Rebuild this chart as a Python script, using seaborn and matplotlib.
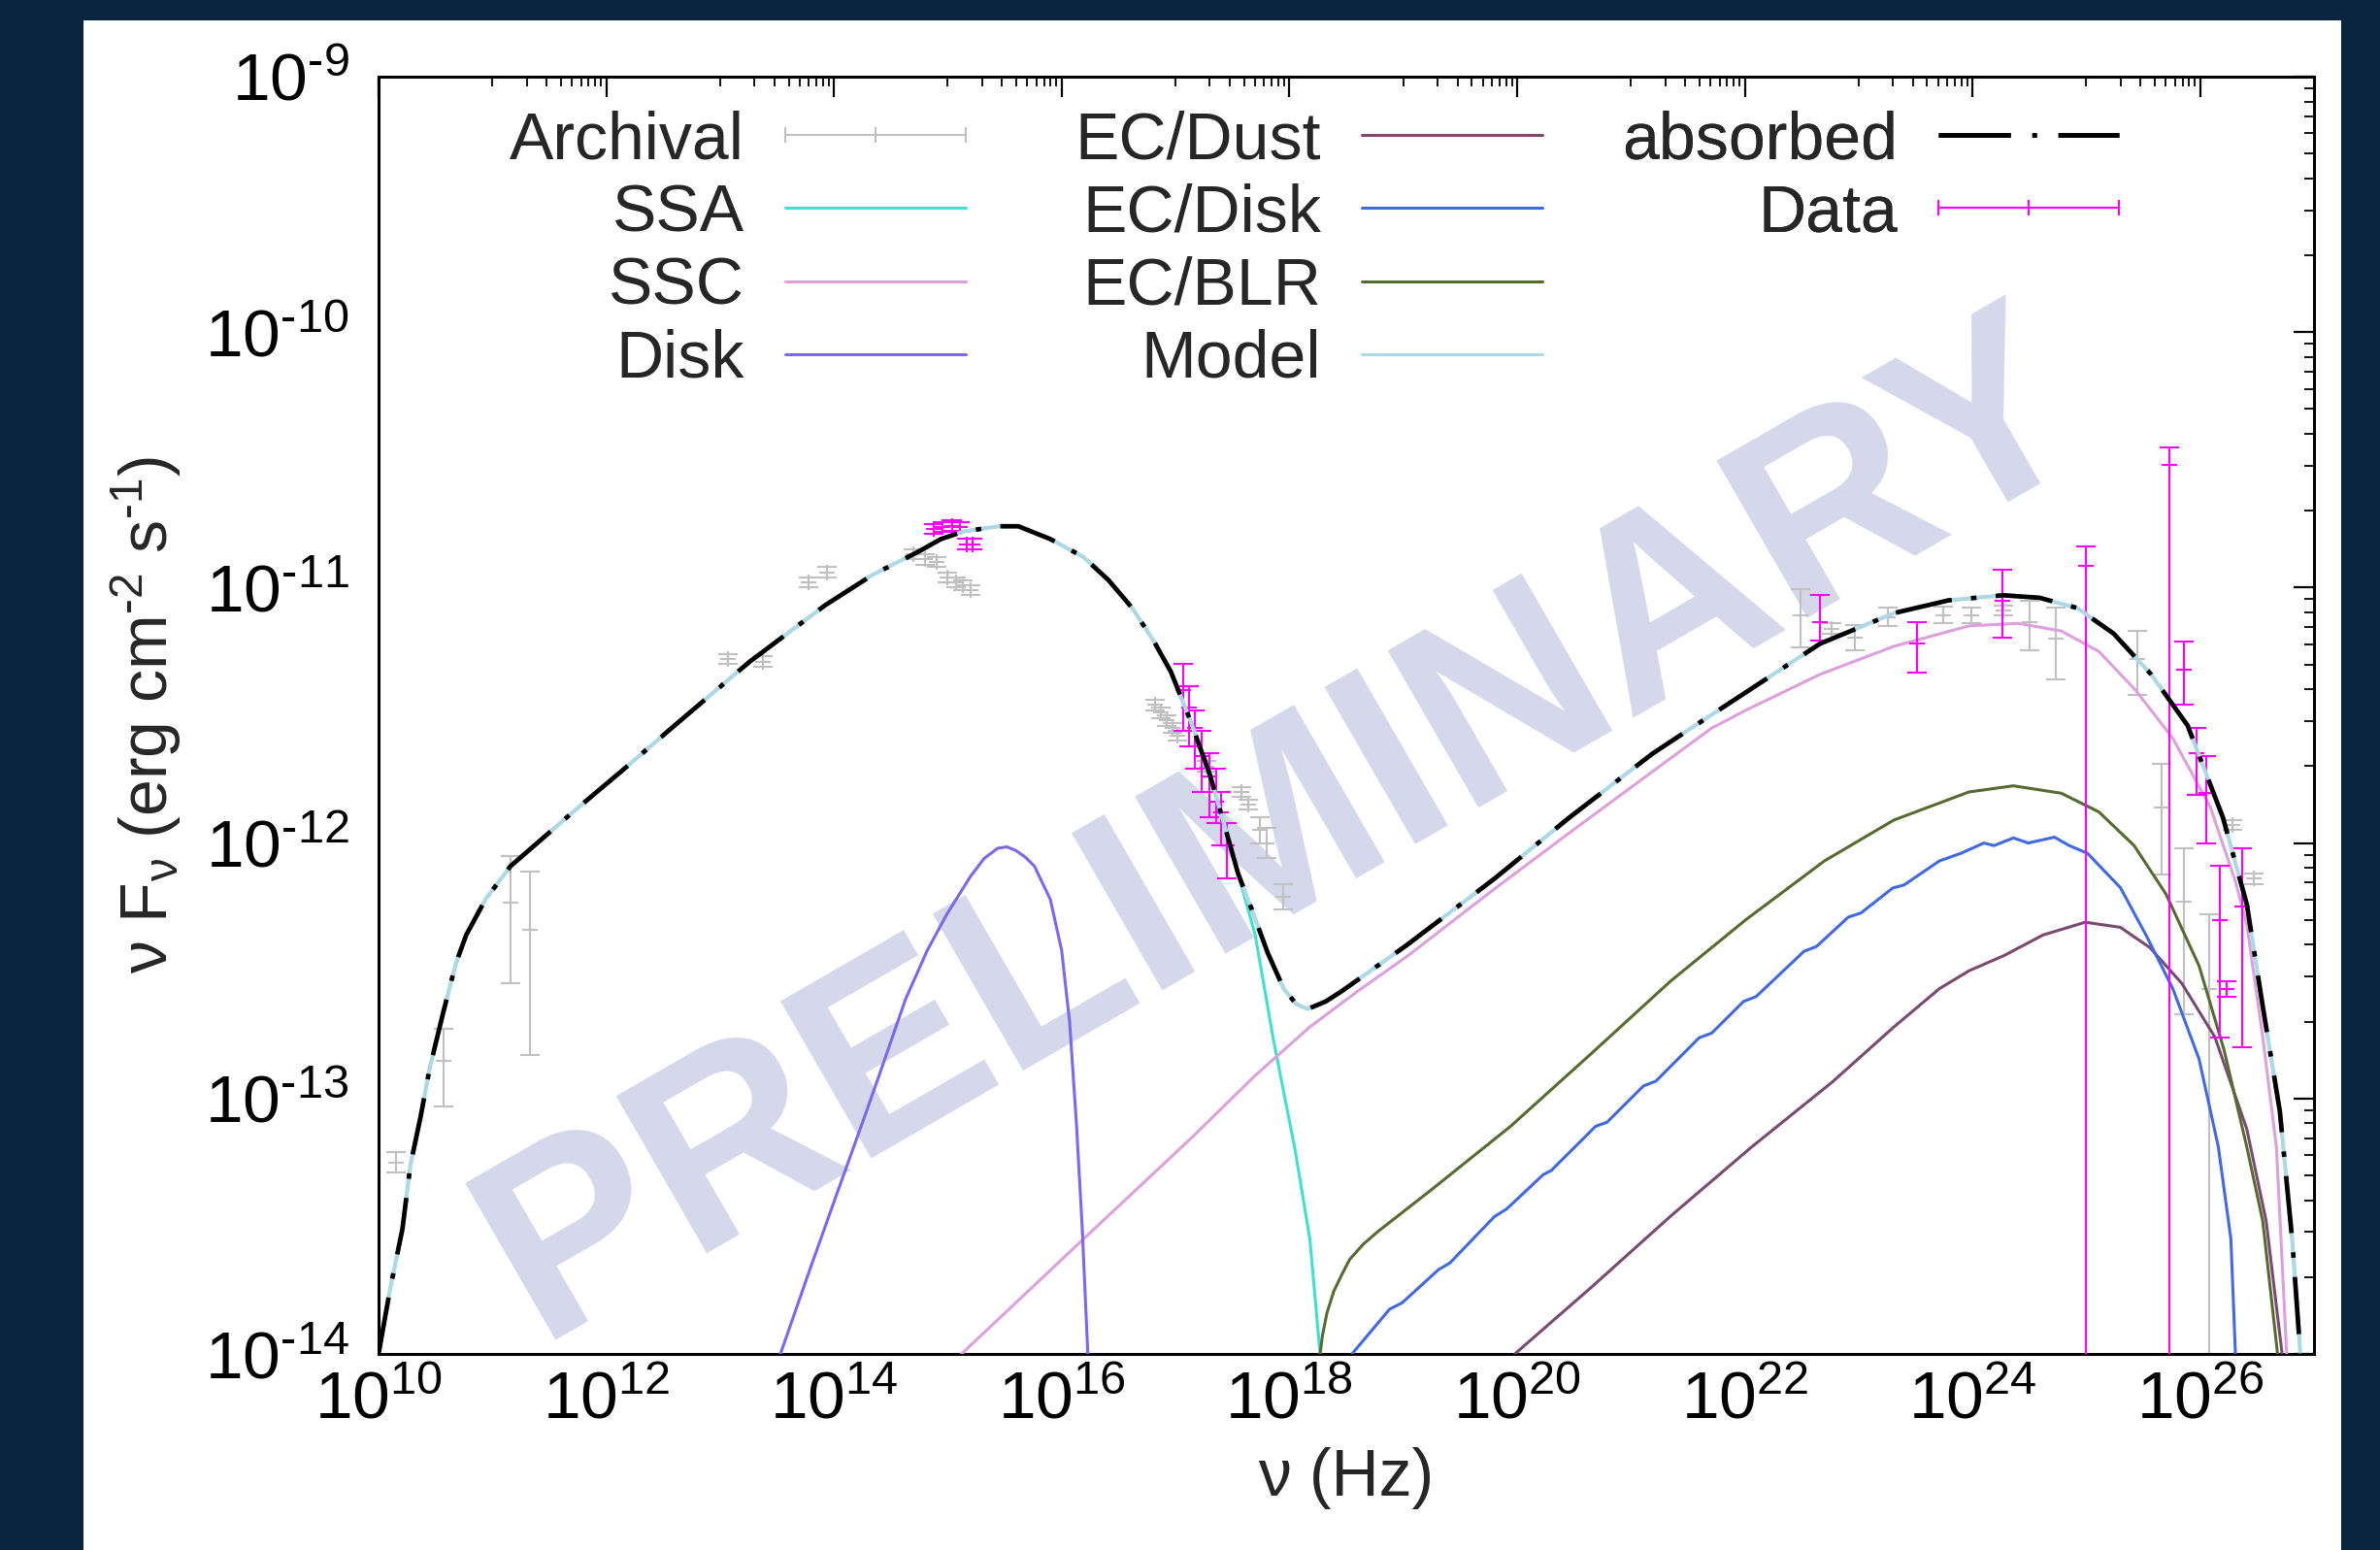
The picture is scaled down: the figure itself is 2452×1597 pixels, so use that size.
"""
Broadband SED with a leptonic model: SSA, SSC, disk and external Compton
(dust / disk / BLR) components, archival points and new data.
"""
import numpy as np
import matplotlib
matplotlib.use("Agg")
import matplotlib.pyplot as plt
import seaborn as sns
from matplotlib.lines import Line2D
from matplotlib.legend_handler import HandlerLine2D
from matplotlib.patches import Rectangle
from matplotlib.ticker import FixedLocator, FuncFormatter, LogLocator, NullFormatter

# all values: log10(nu / Hz) and log10(nuFnu / erg cm^-2 s^-1)

# total model (the absorbed curve follows it)
model_lognu = [10.00, 10.10, 10.21, 10.28, 10.37, 10.45, 10.57, 10.68, 10.77, 10.94,
               11.16, 11.42, 11.73, 12.13, 12.60, 13.26, 13.92, 14.34, 14.74, 14.94,
               15.14, 15.45, 15.62, 15.90, 16.19, 16.41, 16.62, 16.81, 16.96, 17.13,
               17.30, 17.43, 17.55, 17.67, 17.81, 17.95, 18.06, 18.16, 18.32, 18.46,
               19.03, 19.80, 20.46, 21.19, 21.53, 22.01, 22.66, 23.31, 23.79, 24.27,
               24.59, 24.92, 25.24, 25.57, 25.89, 26.20, 26.41, 26.55, 26.70, 26.81, 26.88]
model_logf = [-14.00, -13.75, -13.51, -13.26, -13.07, -12.88, -12.66, -12.47, -12.36, -12.22,
              -12.09, -11.99, -11.87, -11.72, -11.54, -11.29, -11.07, -10.95, -10.86, -10.81,
              -10.78, -10.76, -10.76, -10.81, -10.88, -10.97, -11.08, -11.21, -11.33, -11.52,
              -11.73, -11.93, -12.12, -12.26, -12.43, -12.57, -12.63, -12.65, -12.62, -12.58,
              -12.40, -12.14, -11.90, -11.65, -11.55, -11.41, -11.22, -11.10, -11.05, -11.03,
              -11.04, -11.08, -11.18, -11.34, -11.54, -11.90, -12.24, -12.64, -13.05, -13.56, -14.00]

# synchrotron (SSA) cut-off beyond where it leaves the total model
ssa_tail_lognu = [17.70, 17.86, 18.05, 18.18, 18.27]
ssa_tail_logf = [-12.36, -12.77, -13.20, -13.55, -14.00]

ssc_lognu = [15.12, 16.18, 17.15, 17.70, 18.18, 18.60, 19.03, 19.80, 20.46, 21.19, 21.71,
             22.01, 22.66, 23.31, 23.97, 24.40, 24.78, 25.11, 25.43, 25.76, 26.09, 26.31,
             26.41, 26.55, 26.67, 26.76]
ssc_logf = [-14.00, -13.555, -13.15, -12.91, -12.72, -12.58, -12.445, -12.18, -11.96, -11.72,
            -11.55, -11.48, -11.34, -11.23, -11.15, -11.14, -11.17, -11.25, -11.40, -11.59,
            -11.86, -12.15, -12.32, -12.76, -13.19, -14.00]

disk_lognu = [13.53, 13.78, 14.02, 14.27, 14.42, 14.63, 14.82, 14.99, 15.20, 15.32, 15.44,
              15.52, 15.60, 15.68, 15.76, 15.90, 16.00, 16.07, 16.13, 16.18, 16.23]
disk_logf = [-14.00, -13.68, -13.38, -13.07, -12.88, -12.61, -12.42, -12.28, -12.13, -12.06,
             -12.02, -12.015, -12.03, -12.055, -12.09, -12.22, -12.42, -12.70, -13.10, -13.50,
             -14.00]

ecdust_lognu = [19.98, 20.65, 21.35, 22.06, 22.77, 23.31, 23.71, 23.97, 24.28, 24.62, 24.99,
                25.30, 25.56, 25.84, 26.13, 26.41, 26.58, 26.72]
ecdust_logf = [-14.00, -13.74, -13.46, -13.19, -12.935, -12.72, -12.57, -12.50, -12.44, -12.36,
               -12.31, -12.33, -12.41, -12.55, -12.76, -13.12, -13.48, -14.00]

ecdisk_lognu = [18.55, 18.88, 18.99, 19.31, 19.41, 19.80, 19.91, 20.23, 20.30, 20.69, 20.79,
                21.11, 21.22, 21.60, 21.71, 21.99, 22.10, 22.52, 22.63, 22.91, 23.02, 23.30,
                23.40, 23.71, 23.90, 24.10, 24.19, 24.36, 24.49, 24.72, 24.85, 25.01, 25.30,
                25.53, 25.76, 25.99, 26.16, 26.27, 26.31]
ecdisk_logf = [-14.00, -13.825, -13.80, -13.67, -13.644, -13.463, -13.432, -13.298, -13.282,
               -13.109, -13.093, -12.951, -12.932, -12.762, -12.744, -12.620, -12.601, -12.424,
               -12.405, -12.290, -12.274, -12.176, -12.164, -12.07, -12.04, -12.00, -12.01,
               -11.98, -12.00, -11.977, -12.01, -12.04, -12.175, -12.365, -12.57, -12.845,
               -13.19, -13.55, -14.00]

ecblr_lognu = [18.27, 18.29, 18.33, 18.39, 18.46, 18.53, 18.65, 18.78, 19.24, 19.94, 20.65,
               21.35, 22.01, 22.70, 23.31, 23.97, 24.36, 24.78, 25.11, 25.42, 25.70, 25.99,
               26.21, 26.41, 26.55, 26.68]
ecblr_logf = [-14.00, -13.93, -13.84, -13.755, -13.69, -13.63, -13.57, -13.52, -13.36, -13.11,
              -12.825, -12.54, -12.30, -12.07, -11.91, -11.80, -11.776, -11.805, -11.878, -12.01,
              -12.20, -12.48, -12.81, -13.19, -13.48, -14.00]

# archival points: centre, lower and upper end of the error bar
arch_lognu = [10.15, 10.57, 11.16, 11.33, 13.07, 13.38, 13.78, 13.94,
              14.70, 14.80, 14.90, 15.00, 15.07, 15.13, 15.20,
              16.82, 16.87, 16.92, 16.97, 17.02, 17.27, 17.58, 17.64, 17.74, 17.80, 17.95,
              22.49, 22.76, 22.97, 23.26, 23.74, 23.99, 24.27, 24.50, 24.73, 25.45, 25.66,
              25.86, 26.08, 26.28, 26.47]
arch_logf = [-13.25, -12.854, -12.233, -12.34, -11.28, -11.29, -10.98, -10.94,
             -10.87, -10.89, -10.90, -10.96, -10.98, -10.99, -11.01,
             -11.46, -11.49, -11.52, -11.55, -11.58, -11.70, -11.80, -11.85, -11.95, -12.00, -12.21,
             -11.107, -11.16, -11.195, -11.115, -11.107, -11.107, -11.09, -11.135, -11.20, -11.28,
             -11.86, -12.23, -12.57, -11.93, -12.14]
arch_lo = [-13.29, -13.031, -12.55, -12.83, -11.30, -11.31, -11.00, -10.96,
           -10.89, -10.91, -10.92, -10.98, -11.00, -11.01, -11.03,
           -11.48, -11.51, -11.54, -11.57, -11.60, -11.72, -11.82, -11.87, -12.00, -12.06, -12.26,
           -11.235, -11.18, -11.245, -11.15, -11.14, -11.14, -11.11, -11.245, -11.36, -11.42,
           -12.125, -12.67, -15.0, -11.95, -12.16]
arch_hi = [-13.21, -12.727, -12.05, -12.11, -11.26, -11.27, -10.96, -10.92,
           -10.85, -10.87, -10.88, -10.94, -10.96, -10.97, -10.99,
           -11.44, -11.47, -11.50, -11.53, -11.56, -11.68, -11.78, -11.83, -11.90, -11.94, -12.16,
           -11.005, -11.14, -11.145, -11.08, -11.075, -11.08, -11.07, -11.05, -11.08, -11.17,
           -11.69, -12.02, -12.28, -11.91, -12.12]

# new data
data_lognu = [14.88, 14.95, 15.04, 15.11, 15.17, 15.22,
              17.07, 17.12, 17.17, 17.23, 17.30, 17.36, 17.40, 17.45,
              22.66, 23.51, 24.26, 25.00, 25.73, 25.86, 25.97, 26.05, 26.17, 26.23, 26.37]
data_logf = [-10.770, -10.763, -10.758, -10.763, -10.83, -10.83,
             -11.40, -11.47, -11.55, -11.66, -11.74, -11.84, -11.88, -12.01,
             -11.135, -11.217, -11.05, -10.915, -10.52, -11.32, -11.65, -11.805, -12.30, -12.57, -12.25]
data_lo = [-10.79, -10.783, -10.778, -10.783, -10.85, -10.85,
           -11.56, -11.62, -11.71, -11.80, -11.90, -11.92, -12.01, -12.14,
           -11.209, -11.333, -11.195, -15.0, -15.0, -11.46, -11.81, -12.00, -12.76, -12.60, -12.80]
data_hi = [-10.75, -10.743, -10.738, -10.743, -10.81, -10.81,
           -11.30, -11.385, -11.48, -11.56, -11.65, -11.71, -11.80, -11.92,
           -11.027, -11.137, -10.93, -10.838, -10.45, -11.21, -11.55, -11.66, -12.09, -12.54, -12.02]

x_major_exp = [10, 12, 14, 16, 18, 20, 22, 24, 26]
y_major_exp = [-14, -13, -12, -11, -10, -9]

legend_labels = [["Archival", "SSA", "SSC", "Disk"],
                 ["EC/Dust", "EC/Disk", "EC/BLR", "Model"],
                 ["absorbed", "Data"]]

C_ARCH = "#c0c0c0"
C_SSA = "#40e0d0"
C_SSC = "#dda0dd"
C_DISK = "#7b68ee"
C_DUST = "#7a4a70"
C_ECDISK = "#4169e1"
C_BLR = "#556b2f"
C_MODEL = "#add8e6"
C_DATA = "#ff00ff"
BG = "#0b2440"

sns.set_style("white")
plt.rcParams["font.family"] = ["Liberation Sans", "DejaVu Sans"]
plt.rcParams["mathtext.fontset"] = "custom"
plt.rcParams["mathtext.rm"] = "Liberation Sans"
plt.rcParams["mathtext.it"] = "Liberation Sans:italic"
plt.rcParams["mathtext.bf"] = "Liberation Sans:bold"
plt.rcParams["mathtext.default"] = "regular"

W, H = 2452, 1597
fig = plt.figure(figsize=(W / 100, H / 100), dpi=100, facecolor=BG)
fig.patches.append(Rectangle((86 / W, 0), (2412 - 86) / W, 1 - 21 / H,
                             transform=fig.transFigure, facecolor="white",
                             edgecolor="none", zorder=-10))
ax = fig.add_axes([390 / W, 1 - 1395 / H, (2384 - 390) / W, (1395 - 79) / H])
ax.set_facecolor("white")
ax.set_xscale("log")
ax.set_yscale("log")
ax.set_xlim(1e10, 1e27)
ax.set_ylim(1e-14, 1e-9)


def draw_curve(lognu, logf, color, lw, z, **kw):
    sns.lineplot(x=10 ** np.asarray(lognu), y=10 ** np.asarray(logf), ax=ax,
                 sort=False, estimator=None, legend=False, color=color,
                 linewidth=lw, zorder=z, **kw)


def draw_points(lognu, logf, lo, hi, color, z):
    y = 10 ** np.asarray(logf)
    yerr = [y - 10 ** np.asarray(lo), 10 ** np.asarray(hi) - y]
    ax.errorbar(10 ** np.asarray(lognu), y, yerr=yerr, fmt="+", color=color,
                ms=11, mew=1.5, elinewidth=1.5, capsize=7, capthick=1.5, zorder=z)


ax.text(0.468, 0.41, "PRELIMINARY", transform=ax.transAxes, fontsize=195,
        fontweight="bold", color="#d4d8ea", rotation=30, rotation_mode="anchor",
        ha="center", va="center", zorder=0.5)

draw_points(arch_lognu, arch_logf, arch_lo, arch_hi, C_ARCH, 2)

n_sync = sum(1 for v in model_lognu if v <= 17.55)
draw_curve(model_lognu[:n_sync] + ssa_tail_lognu, model_logf[:n_sync] + ssa_tail_logf, C_SSA, 2.2, 3)
draw_curve(ssc_lognu, ssc_logf, C_SSC, 2.2, 3)
draw_curve(disk_lognu, disk_logf, C_DISK, 2.2, 3)
draw_curve(ecdust_lognu, ecdust_logf, C_DUST, 2.2, 3)
draw_curve(ecdisk_lognu, ecdisk_logf, C_ECDISK, 2.2, 3)
draw_curve(ecblr_lognu, ecblr_logf, C_BLR, 2.2, 3)

draw_points(data_lognu, data_logf, data_lo, data_hi, C_DATA, 4)

ABS_DASH = (0, (12.5, 4.2, 1.2, 4.2))
draw_curve(model_lognu, model_logf, C_MODEL, 3.0, 5)
draw_curve(model_lognu, model_logf, "black", 3.4, 6, linestyle=ABS_DASH)

# axes, gnuplot-like ticks
ax.xaxis.set_major_locator(FixedLocator([10.0 ** e for e in x_major_exp]))
ax.xaxis.set_minor_locator(FixedLocator([k * 10.0 ** e for e in range(11, 27, 2) for k in range(1, 10)]))
ax.xaxis.set_major_formatter(FuncFormatter(lambda v, p: "$\\mathdefault{10^{%d}}$" % round(np.log10(v))))
ax.xaxis.set_minor_formatter(NullFormatter())
ax.yaxis.set_major_locator(FixedLocator([10.0 ** e for e in y_major_exp]))
ax.yaxis.set_minor_locator(LogLocator(base=10, subs=range(2, 10), numticks=50))
ax.yaxis.set_major_formatter(FuncFormatter(
    lambda v, p: "$\\mathdefault{10^{\u2010%d}}$" % abs(round(np.log10(v)))))
ax.yaxis.set_minor_formatter(NullFormatter())

ax.tick_params(which="both", direction="in", top=True, right=True, colors="black")
ax.tick_params(which="major", length=15, width=1.6)
ax.tick_params(which="minor", length=7.5, width=1.3)
ax.tick_params(axis="x", which="major", labelsize=50, pad=12)
ax.tick_params(axis="y", which="major", labelsize=50, pad=22)
for sp in ax.spines.values():
    sp.set_visible(True)
    sp.set_color("black")
    sp.set_linewidth(2.2)

ax.set_xlabel("\u03bd (Hz)", fontsize=49)
ax.set_ylabel("\u03bd F$_{\u03bd}$ (erg cm$^{\u20102}$ s$^{\u20101}$)", fontsize=49)
ax.xaxis.set_label_coords(0.5, -0.073)
ax.yaxis.set_label_coords(-0.101, 0.5)

# key: three separate columns, labels on the left of the samples (gnuplot style)
h_arch = Line2D([], [], color=C_ARCH, lw=1.5, marker="|", ms=12, mew=1.5)
h_data = Line2D([], [], color=C_DATA, lw=1.5, marker="|", ms=12, mew=1.5)
legend_handles = [
    [h_arch,
     Line2D([], [], color=C_SSA, lw=2.2),
     Line2D([], [], color=C_SSC, lw=2.2),
     Line2D([], [], color=C_DISK, lw=2.2)],
    [Line2D([], [], color=C_DUST, lw=2.2),
     Line2D([], [], color=C_ECDISK, lw=2.2),
     Line2D([], [], color=C_BLR, lw=2.2),
     Line2D([], [], color=C_MODEL, lw=2.2)],
    [Line2D([], [], color="black", lw=3.4, linestyle=(0, (15.7, 4.7, 1.0, 4.7))),
     h_data],
]
err_handler = HandlerLine2D(numpoints=3, marker_pad=0)
col_right = [995, 1589, 2183]
for hs, ls, xr in zip(legend_handles, legend_labels, col_right):
    leg = ax.legend(hs, ls, loc="upper right", bbox_to_anchor=(xr / W, 1 - 113 / H),
                    bbox_transform=fig.transFigure, frameon=False, markerfirst=False,
                    fontsize=49, handlelength=2.73, handletextpad=0.62,
                    labelspacing=0.166, borderpad=0, borderaxespad=0,
                    handler_map={h_arch: err_handler, h_data: err_handler})
    ax.add_artist(leg)

fig.savefig("out.png", dpi=100, facecolor=BG)
